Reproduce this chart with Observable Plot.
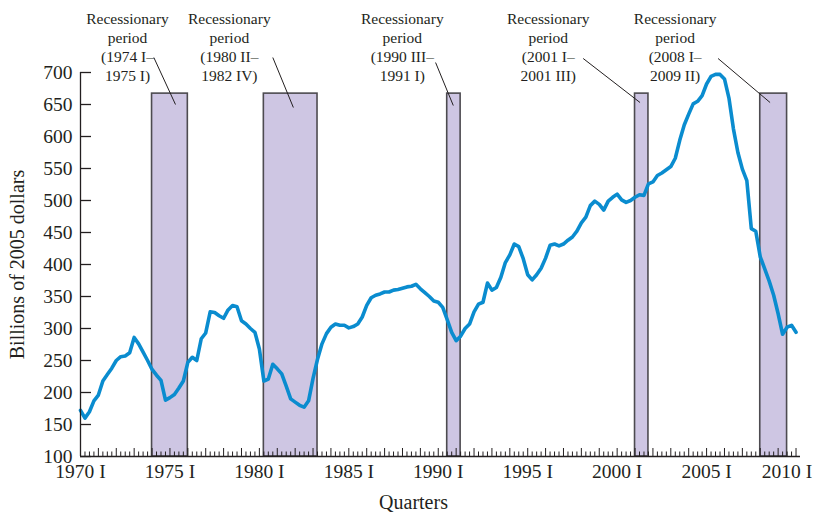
<!DOCTYPE html>
<html>
<head>
<meta charset="utf-8">
<script src="https://cdn.jsdelivr.net/npm/d3@7"></script>
<script src="https://cdn.jsdelivr.net/npm/@observablehq/plot@0.6"></script>
<style>
  html, body { margin: 0; padding: 0; background: #fff; overflow: hidden; }
  #chart svg { display: block; overflow: visible; }
</style>
</head>
<body>
<div id="chart"></div>
<script>
// Quarterly series, 1970 I .. 2010 I (billions of 2005 dollars)
const startYear = 1970;
const seriesValues = [
  172, 160, 170, 187, 196, 218, 228, 238, 250, 256,
  257, 262, 286, 276, 263, 250, 236, 227, 219, 188,
  192, 197, 207, 218, 247, 255, 250, 284, 293, 326,
  325, 320, 316, 329, 336, 334, 312, 307, 300, 294,
  268, 218, 221, 244, 237, 229, 210, 190, 185, 180,
  177, 187, 222, 252, 276, 292, 302, 307, 305, 305,
  301, 303, 307, 318, 336, 348, 352, 354, 357, 357,
  360, 361, 363, 365, 366, 369, 362, 356, 350, 343,
  341, 333, 314, 294, 281, 288, 300, 307, 326, 338,
  341, 371, 360, 364, 380, 403, 415, 432, 428, 409,
  384, 376, 384, 394, 410, 430, 432, 429, 432, 438,
  443, 452, 465, 474, 492, 499, 494, 485, 499, 505,
  510, 501, 497, 500, 505, 509, 508, 526, 529, 539,
  543, 548, 553, 566, 594, 618, 635, 651, 655, 664,
  682, 694, 697, 697, 690, 660, 612, 575, 549, 531,
  456, 452, 412, 393, 374, 352, 323, 291, 302, 305, 294
];
const series = seriesValues.map((v, i) => ({t: startYear + i / 4, v}));

// Recession bands (decimal years as drawn)
const bandStart = [1974.0, 1980.25, 1990.5, 2001.0, 2008.0];
const bandEnd   = [1976.0, 1983.25, 1991.25, 2001.75, 2009.5];
const bandBottom = 100;
const bandTop = 667;
const bands = bandStart.map((s, i) => ({x1: s, x2: bandEnd[i], y1: bandBottom, y2: bandTop}));

// Annotations
const annoText = [
  "Recessionary\nperiod\n(1974 I–\n1975 I)",
  "Recessionary\nperiod\n(1980 II–\n1982 IV)",
  "Recessionary\nperiod\n(1990 III–\n1991 I)",
  "Recessionary\nperiod\n(2001 I–\n2001 III)",
  "Recessionary\nperiod\n(2008 I–\n2009 II)"
];
const annoX = [1972.63, 1978.32, 1987.99, 1996.15, 2003.24];
const annoY = [797, 797, 797, 797, 797];
const annos = annoText.map((text, i) => ({text, x: annoX[i], y: annoY[i]}));

// Leader lines from label to band
const leaderX1 = [1974.10, 1980.75, 1989.85, 1998.10, 2005.64];
const leaderY1 = [723.4, 723.4, 715.6, 721.9, 721.9];
const leaderX2 = [1975.31, 1981.90, 1990.84, 2001.28, 2008.55];
const leaderY2 = [650, 645.3, 648.4, 653.1, 653.1];
const leaders = leaderX1.map((x1, i) => ({x1, y1: leaderY1[i], x2: leaderX2[i], y2: leaderY2[i]}));

// Axes
const yTicks = [100, 150, 200, 250, 300, 350, 400, 450, 500, 550, 600, 650, 700];
const xLabelYears = [1970, 1975, 1980, 1985, 1990, 1995, 2000, 2005];
const xLastLabelYear = [2010];
const yearTicks = d3.range(1970, 2011);
const quarterTicks = d3.range(1970, 2010.01, 0.25).filter(q => q % 1 !== 0);
const yTitle = "Billions of 2005 dollars";
const xTitle = "Quarters";

const ink = "#231f20";
const plotWidth = 813, plotHeight = 516;
const mL = 80, mR = 13, mT = 72, mB = 60;
const innerW = plotWidth - mL - mR;
const innerH = plotHeight - mT - mB;
const quarterLabel = d => `${d} I`;

const chart = Plot.plot({
  width: plotWidth,
  height: plotHeight,
  marginLeft: mL, marginRight: mR, marginTop: mT, marginBottom: mB,
  style: {fontFamily: "'Liberation Serif', 'Times New Roman', serif", color: ink, background: "#fff", overflow: "visible"},
  x: {domain: [1970, 2010.25], axis: null},
  y: {domain: [100, 700]},
  marks: [
    Plot.rect(bands, {x1: "x1", x2: "x2", y1: "y1", y2: "y2", fill: "#cec6e3", stroke: "#4d4b50", strokeWidth: 1.6}),
    Plot.line(series, {x: "t", y: "v", stroke: "#0a8ccf", strokeWidth: 3.6, strokeLinejoin: "round", strokeLinecap: "round"}),
    // axis lines
    Plot.ruleX([1970], {stroke: ink, strokeWidth: 1.3}),
    Plot.ruleY([100], {stroke: ink, strokeWidth: 1.3}),
    // inward ticks
    Plot.tickY(yTicks, {y: d => d, stroke: ink, strokeWidth: 1.3, insetRight: innerW - 11}),
    Plot.tickX(yearTicks, {x: d => d, stroke: ink, strokeWidth: 1, insetTop: innerH - 8}),
    Plot.tickX(quarterTicks, {x: d => d, stroke: ink, strokeWidth: 1, insetTop: innerH - 4.5}),
    // tick labels
    Plot.axisY({ticks: yTicks, tickSize: 0, tickPadding: 8, fontSize: 19.5, label: null, anchor: "left"}),
    Plot.text(xLabelYears, {x: d => d, frameAnchor: "bottom", text: quarterLabel, dy: 8, lineAnchor: "top", textAnchor: "middle", fontSize: 19.5, fill: ink}),
    Plot.text(xLastLabelYear, {x: d => d, frameAnchor: "bottom", text: quarterLabel, dx: -9, dy: 8, lineAnchor: "top", textAnchor: "middle", fontSize: 19.5, fill: ink}),
    // titles
    Plot.text([yTitle], {frameAnchor: "left", rotate: -90, dx: -63, fontSize: 20, fill: ink, textAnchor: "middle", lineAnchor: "middle"}),
    Plot.text([xTitle], {frameAnchor: "bottom", dx: -27, dy: 46, fontSize: 20, fill: ink, textAnchor: "middle", lineAnchor: "middle"}),
    // annotations
    Plot.link(leaders, {x1: "x1", y1: "y1", x2: "x2", y2: "y2", stroke: ink, strokeWidth: 1}),
    Plot.text(annos, {x: "x", y: "y", text: "text", fontSize: 15.5, lineHeight: 1.23, lineAnchor: "top", textAnchor: "middle", fill: ink})
  ]
});
document.getElementById("chart").appendChild(chart);
</script>
</body>
</html>
